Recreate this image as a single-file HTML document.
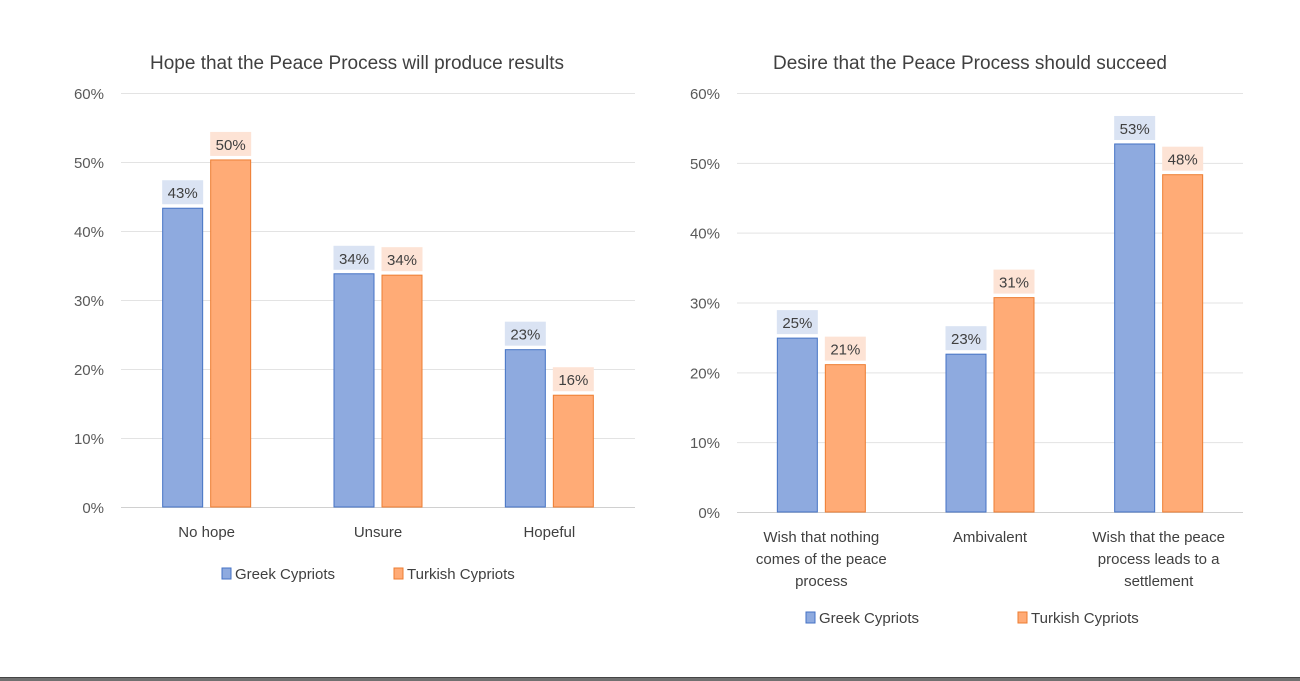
<!DOCTYPE html>
<html><head><meta charset="utf-8"><style>
html,body{margin:0;padding:0;background:#fff;width:1300px;height:681px;overflow:hidden}
svg{display:block;font-family:"Liberation Sans",sans-serif}
</style></head><body>
<svg id="s" width="1300" height="681">
<rect x="0" y="677" width="1300" height="4" fill="#707070"/>
<line x1="0" y1="677.5" x2="1300" y2="677.5" stroke="#444"/>
</svg>
<script>
const leftCategories=[["No hope"],["Unsure"],["Hopeful"]];
const leftGreek=[43.3,33.8,22.8];
const leftTurkish=[50.3,33.6,16.2];
const leftLabelsG=["43%","34%","23%"];
const leftLabelsT=["50%","34%","16%"];
const rightCategories=[["Wish that nothing","comes of the peace","process"],["Ambivalent"],["Wish that the peace","process leads to a","settlement"]];
const rightGreek=[24.9,22.6,52.7];
const rightTurkish=[21.1,30.7,48.3];
const rightLabelsG=["25%","23%","53%"];
const rightLabelsT=["21%","31%","48%"];
const tickValues=[0,10,20,30,40,50,60];
const tickLabels=["0%","10%","20%","30%","40%","50%","60%"];
const seriesNames=["Greek Cypriots","Turkish Cypriots"];

const NS="http://www.w3.org/2000/svg";
const svg=document.getElementById('s');
function mk(tag,attrs,parent,text){const e=document.createElementNS(NS,tag);for(const k in attrs)e.setAttribute(k,attrs[k]);if(text!==undefined)e.textContent=text;(parent||svg).appendChild(e);return e;}

function chart(cfg){
  const g=mk('g',{});
  
  
  const y=v=>cfg.y0-(v/60)*(cfg.y0-cfg.y60);
  const t=mk('text',{x:cfg.titleX,y:69,'font-size':19,fill:'#404040','text-anchor':'middle'},g,cfg.title);
  
  
  tickValues.forEach((v,i)=>{
    const l=mk('line',{x1:cfg.x0,x2:cfg.x1,y1:y(v)+0.5,y2:y(v)+0.5,stroke:i===0?'#d0d0d0':'#e3e3e3','stroke-width':1},g);
    
    
    const tl=mk('text',{x:cfg.x0-17,y:y(v)+6,'font-size':15,fill:'#595959','text-anchor':'end'},g,tickLabels[i]);
    
    
  });
  const n=cfg.cats.length, gw=(cfg.x1-cfg.x0)/n;
  const bw=40, gap=8;
  const series=[[cfg.g,cfg.lg,'#8eaadf','#4472c4','#dae3f3'],[cfg.t,cfg.lt,'#ffab76','#ed7d31','#fde3d5']];
  cfg.cats.forEach((c,i)=>{
    const cx=cfg.x0+gw*(i+0.5);
    series.forEach((s,j)=>{
      const bx=j===0?cx-gap/2-bw:cx+gap/2;
      const top=y(s[0][i]);
      const r=mk('rect',{x:bx,y:top,width:bw,height:cfg.y0-top,fill:s[2],stroke:s[3],'stroke-width':1},g);
      
      
      const lb=mk('rect',{x:bx-0.5,y:top-28,width:bw+1,height:24,fill:s[4]},g);
      
      
      const lt=mk('text',{x:bx+bw/2,y:top-10,'font-size':15,fill:'#404040','text-anchor':'middle'},g,s[1][i]);
      
      
    });
    c.forEach((line,k)=>{
      const ct=mk('text',{x:cx,y:cfg.y0+30+k*22,'font-size':15,fill:'#404040','text-anchor':'middle'},g,line);
      
      
    });
  });
  [[cfg.legX[0],'#8eaadf','#4472c4'],[cfg.legX[1],'#ffab76','#ed7d31']].forEach((L,j)=>{
    const sq=mk('rect',{x:L[0],y:cfg.legY-10,width:9,height:11,fill:L[1],stroke:L[2]},g);
    
    
    const lt=mk('text',{x:L[0]+13,y:cfg.legY+1,'font-size':15,fill:'#404040'},g,seriesNames[j]);
    
    
  });
}
chart({name:'left-chart',title:'Hope that the Peace Process will produce results',titleX:357,x0:121,x1:635,y0:507,y60:93,cats:leftCategories,g:leftGreek,t:leftTurkish,lg:leftLabelsG,lt:leftLabelsT,legX:[222,394],legY:578});
chart({name:'right-chart',title:'Desire that the Peace Process should succeed',titleX:970,x0:737,x1:1243,y0:512,y60:93,cats:rightCategories,g:rightGreek,t:rightTurkish,lg:rightLabelsG,lt:rightLabelsT,legX:[806,1018],legY:622});
</script>
</body></html>
